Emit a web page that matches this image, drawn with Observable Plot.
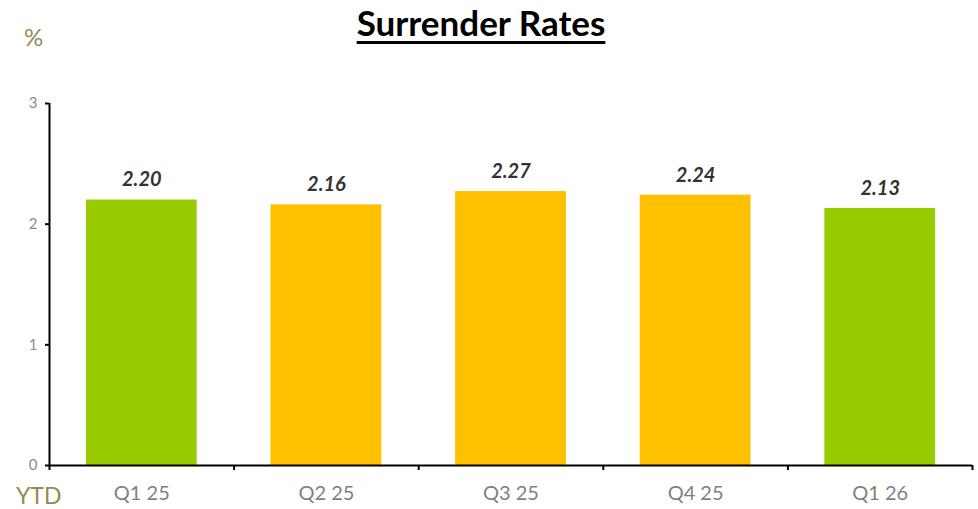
<!DOCTYPE html>
<html>
<head>
<meta charset="utf-8">
<script src="https://cdn.jsdelivr.net/npm/d3@7"></script>
<script src="https://cdn.jsdelivr.net/npm/@observablehq/plot@0.6"></script>
<style>
  html, body { margin: 0; padding: 0; background: #fff; }
  #wrap { position: relative; width: 978px; height: 509px; font-family: Lato, "Open Sans", sans-serif; }
  #title { position: absolute; left: 0; width: 962px; top: 1px; text-align: center; font-weight: 700; font-size: 35px; color: #000; text-decoration: underline; text-decoration-thickness: 3px; text-underline-offset: 5px; }
  #pct { position: absolute; left: 24px; top: 22px; font-size: 24px; color: #948A54; }
  #ytd { position: absolute; left: 16px; top: 481px; font-size: 23px; color: #948A54; }
  svg { display: block; }
</style>
</head>
<body>
<div id="wrap">
  <div id="chart"></div>
  <div id="title">Surrender Rates</div>
  <div id="pct">%</div>
  <div id="ytd">YTD</div>
</div>
<script>
const categories = ["Q1 25", "Q2 25", "Q3 25", "Q4 25", "Q1 26"];
const values = [2.20, 2.16, 2.27, 2.24, 2.13];
const colors = ["#99CC00", "#FFC000", "#FFC000", "#FFC000", "#99CC00"];
const yTicks = [0, 1, 2, 3];

const data = categories.map((c, i) => ({category: c, value: values[i], color: colors[i], idx: i}));
const boundaries = d3.range(categories.length + 1);

const chart = Plot.plot({
  width: 978,
  height: 509,
  marginLeft: 49,
  marginRight: 6,
  marginTop: 103,
  marginBottom: 44,
  style: {fontFamily: "Lato, 'Open Sans', sans-serif", background: "#fff"},
  x: {type: "linear", domain: [0, categories.length], axis: null},
  y: {domain: [0, 3], axis: null},
  marks: [
    Plot.rectY(data, {x1: d => d.idx + 0.2, x2: d => d.idx + 0.8, y: "value", fill: "color", inset: 0}),
    Plot.text(data, {x: d => d.idx + 0.5, y: "value", text: d => d.value.toFixed(2), dy: -20, fontSize: 20, fontWeight: 700, fontStyle: "italic", fill: "#333333"}),
    Plot.text(data, {x: d => d.idx + 0.5, frameAnchor: "bottom", text: "category", dy: 34, fontSize: 20, fill: "#7F7F7F"}),
    Plot.axisY({ticks: yTicks, tickSize: 4, tickPadding: 8, fontSize: 15, color: "#8C8C8C", stroke: "#000", strokeWidth: 2, tickFormat: d3.format("d"), label: null}),
    Plot.axisX({ticks: boundaries, tickSize: 5, tickFormat: () => "", stroke: "#000", strokeWidth: 2, label: null}),
    Plot.ruleX([0], {stroke: "#000", strokeWidth: 2}),
    Plot.ruleY([0], {stroke: "#000", strokeWidth: 2})
  ]
});
document.getElementById("chart").appendChild(chart);
</script>
</body>
</html>
